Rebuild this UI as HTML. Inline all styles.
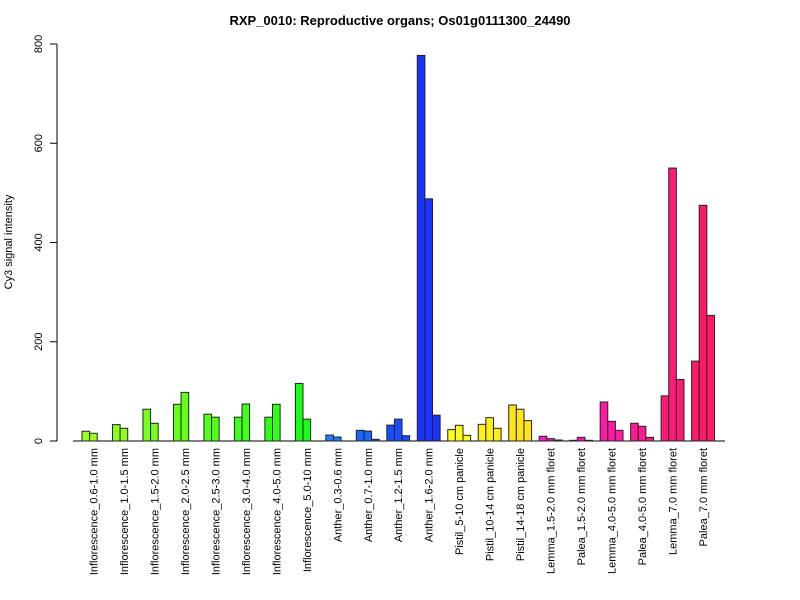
<!DOCTYPE html>
<html><head><meta charset="utf-8"><style>
body{margin:0;background:#fff}
svg{display:block;font-family:"Liberation Sans",Arial,sans-serif}
</style></head><body>
<svg id="c" width="800" height="600">
<text x="400" y="25" text-anchor="middle" font-size="13" font-weight="bold">RXP_0010: Reproductive organs; Os01g0111300_24490</text>
<text transform="translate(12,242) rotate(-90)" text-anchor="middle" font-size="11">Cy3 signal intensity</text>
<g id="yaxis"></g>
<g id="bars"></g>
<g id="xlabels"></g>
</svg>
<script>
const categories=["Inflorescence_0.6-1.0 mm","Inflorescence_1.0-1.5 mm","Inflorescence_1.5-2.0 mm","Inflorescence_2.0-2.5 mm","Inflorescence_2.5-3.0 mm","Inflorescence_3.0-4.0 mm","Inflorescence_4.0-5.0 mm","Inflorescence_5.0-10 mm","Anther_0.3-0.6 mm","Anther_0.7-1.0 mm","Anther_1.2-1.5 mm","Anther_1.6-2.0 mm","Pistil_5-10 cm panicle","Pistil_10-14 cm panicle","Pistil_14-18 cm panicle","Lemma_1.5-2.0 mm floret","Palea_1.5-2.0 mm floret","Lemma_4.0-5.0 mm floret","Palea_4.0-5.0 mm floret","Lemma_7.0 mm floret","Palea_7.0 mm floret"];
const values=[[19.6,15.5],[33,25.6],[64,35.7],[74,98],[54,48],[48,74.5],[48,74],[116,44],[12,8],[21.5,20,3.4],[32,44,10.7],[777,488,52],[23,31.6,11.4],[33.6,47,25.6],[72.5,64,41],[9.5,4.7,2],[1.4,7.4,1.4],[78.6,39.7,21.5],[35.7,29.6,7.4],[91,550,124],[161,475,253]];
const colors=["#a0ff1a","#8cff1a","#78ff1a","#64ff1a","#50ff1a","#40ff1a","#30ff1a","#1aff1a","#1a80ff","#1a66ff","#1a4dff","#1a33ff","#ffff1a","#ffee1a","#ffe41a","#ff1acc","#ff1ab8","#ff1aa3","#ff1a8f","#ff1a7a","#ff1a66"];
const yTicks=[0,200,400,600,800];
const NS="http://www.w3.org/2000/svg";
const y0=441,yTop=44,yMax=800;
function ys(v){return y0-(v/yMax)*(y0-yTop);}
const slot=7.62,g0=82;
function xs(gi,bi){return g0+gi*4*slot+bi*slot;}
function mk(t,a,p){const e=document.createElementNS(NS,t);for(const k in a)e.setAttribute(k,a[k]);p.appendChild(e);return e;}
const ya=document.getElementById('yaxis');
let l=mk('line',{x1:57,x2:57,y1:ys(0),y2:ys(800),stroke:'#000'},ya);


yTicks.forEach(t=>{
 const tk=mk('line',{x1:50,x2:57,y1:ys(t),y2:ys(t),stroke:'#000'},ya);
 
 
 const tx=mk('text',{transform:`translate(42,${ys(t)}) rotate(-90)`,'text-anchor':'middle','font-size':11},ya);
 tx.textContent=t;
 
 
});
const bg=document.getElementById('bars');
const base=mk('line',{x1:73,x2:725,y1:y0,y2:y0,stroke:'#000'},bg);


values.forEach((g,gi)=>{g.forEach((v,bi)=>{
 const r=mk('rect',{x:xs(gi,bi),y:ys(v),width:slot,height:y0-ys(v),fill:colors[gi],stroke:'#222','stroke-width':1},bg);
 
 
});});
const xl=document.getElementById('xlabels');
categories.forEach((c,gi)=>{
 const cx=xs(gi,0)+1.5*slot+4;
 const t=mk('text',{transform:`translate(${cx},448) rotate(-90)`,'text-anchor':'end','font-size':11},xl);
 t.textContent=c;
 
 
});
</script>
</body></html>
